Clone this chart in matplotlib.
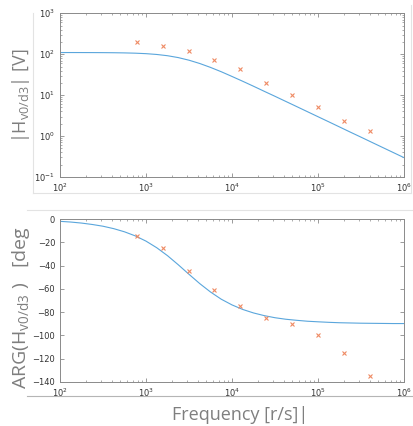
import matplotlib
matplotlib.use("Agg")
import matplotlib.pyplot as plt
from matplotlib.lines import Line2D
from matplotlib.ticker import LogLocator, NullFormatter

# curve samples (1/8 decade steps)
w_line = [100, 133, 178, 237, 316, 422, 562, 750, 1000, 1334, 1778, 2371,
          3162, 4217, 5623, 7499, 10000, 13335, 17783, 23714, 31623, 42170,
          56234, 74989, 100000, 133352, 177828, 237137, 316228, 421697,
          562341, 749894, 1000000]
mag_line = [109.9, 109.9, 109.8, 109.6, 109.3, 108.7, 107.7, 106.0, 103.2,
            98.6, 91.9, 82.7, 71.4, 59.3, 47.6, 37.3, 28.6, 21.8, 16.5, 12.4,
            9.36, 7.03, 5.28, 3.96, 2.97, 2.23, 1.67, 1.25, 0.94, 0.704,
            0.528, 0.396, 0.297]
ph_line = [-2.0, -2.6, -3.5, -4.7, -6.2, -8.3, -11.0, -14.5, -19.0, -24.7,
           -31.5, -39.3, -47.5, -55.5, -62.7, -68.9, -73.8, -77.7, -80.7,
           -83.0, -84.8, -86.1, -87.0, -87.8, -88.3, -88.75, -89.1, -89.3,
           -89.5, -89.6, -89.7, -89.8, -89.8]

# measured points
w_meas = [781.25, 1562.5, 3125, 6250, 12500, 25000, 50000, 100000, 200000, 400000]
mag_meas = [200, 160, 120, 72, 43, 20, 10, 5.0, 2.3, 1.3]
ph_meas = [-15, -25, -45, -61, -75, -85, -90, -100, -115, -135]

blue = '#5aa6dc'
orange = '#ef8a63'
axcol = '#8a8a8a'
labcol = '#7f7f7f'

fig = plt.figure(figsize=(4.13, 4.26), dpi=100)

def style(ax):
    for s in ax.spines.values():
        s.set_color(axcol)
        s.set_linewidth(0.7)
    ax.tick_params(which='both', direction='in', top=True, right=True,
                   colors=axcol, labelcolor='#333333', labelsize=6)
    ax.tick_params(which='major', length=3, width=0.6)
    ax.tick_params(which='minor', length=1.6, width=0.5)
    ax.set_xscale('log')
    ax.set_xlim(1e2, 1e6)
    ax.xaxis.set_minor_locator(LogLocator(base=10, subs=range(2, 10), numticks=20))
    ax.xaxis.set_minor_formatter(NullFormatter())

# magnitude
ax1 = fig.add_axes([0.1453, 0.5845, 0.833, 0.3843])
style(ax1)
ax1.set_yscale('log')
ax1.set_ylim(1e-1, 1e3)
ax1.yaxis.set_minor_locator(LogLocator(base=10, subs=range(2, 10), numticks=20))
ax1.yaxis.set_minor_formatter(NullFormatter())
ax1.plot(w_line, mag_line, color=blue, lw=0.8)
ax1.plot(w_meas, mag_meas, 'x', color=orange, ms=3.5, mew=0.8)
fig.text(0.05, 0.775, '|H$\\mathregular{_{v0/d3}}$| [V]', family='Open Sans',
         fontsize=13, color=labcol, rotation=90, ha='center', va='center')

# phase
ax2 = fig.add_axes([0.1453, 0.1033, 0.833, 0.3826])
style(ax2)
ax2.set_ylim(-140, 0)
ax2.set_yticks(range(-140, 1, 20))
ax2.plot(w_line, ph_line, color=blue, lw=0.8)
ax2.plot(w_meas, ph_meas, 'x', color=orange, ms=3.5, mew=0.8)
fig.text(0.05, 0.277, 'ARG(H$\\mathregular{_{v0/d3}}$ )   [deg', family='Open Sans',
         fontsize=14, color=labcol, rotation=90, ha='center', va='center')

fig.text(0.581, 0.005, 'Frequency [r/s]|', family='Open Sans', fontsize=13,
         color=labcol, ha='center', va='bottom')

# faint frames of the pasted panels
def seg(x0, y0, x1, y1, c='#e3e3e3'):
    fig.add_artist(Line2D([x0 / 413, x1 / 413], [1 - y0 / 426, 1 - y1 / 426],
                          color=c, lw=0.8))

seg(33, 13, 33, 193)
seg(33, 193, 411, 193)
seg(411, 5, 411, 193)
seg(27, 210, 413, 210)
seg(27, 396, 413, 396, c='#b5b5b5')

fig.savefig('out.png', dpi=100, facecolor='white')
